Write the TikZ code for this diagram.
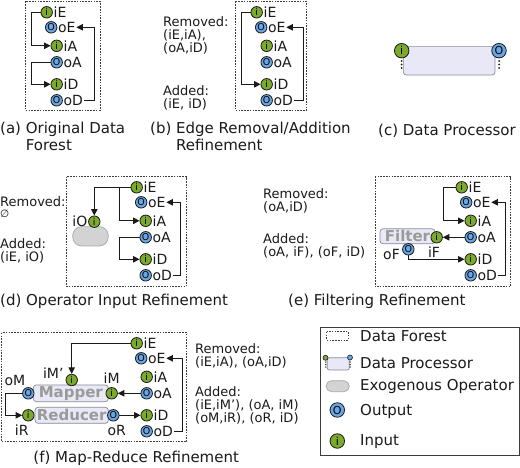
\documentclass[tikz,border=0pt]{standalone}
\usepackage{fontspec}
\setmainfont{DejaVu Sans}
\usetikzlibrary{arrows.meta}
\definecolor{ingreen}{HTML}{7BAA2C}
\definecolor{outblue}{HTML}{6AA6E2}
\definecolor{proc}{HTML}{E8E8F6}
\definecolor{procb}{HTML}{8A8A96}
\definecolor{exo}{HTML}{D3D3D3}
\definecolor{exob}{HTML}{A8A8A8}
\definecolor{ink}{HTML}{1A1A1A}
\definecolor{ptxt}{HTML}{9A9A9A}
\tikzset{
  port/.style={circle, draw=ink, line width=0.8pt, inner sep=0pt, minimum size=11.5pt, font=\fontsize{9.5}{9.5}\selectfont},
  inp/.style={port, fill=ingreen},
  outp/.style={port, fill=outblue},
  bigport/.style={minimum size=14.5pt, font=\fontsize{11}{11}\selectfont},
  lbl/.style={inner sep=0.6pt, font=\fontsize{14}{14}\selectfont, text=ink},
  side/.style={align=left, inner sep=0pt, font=\fontsize{13}{13}\selectfont, text=ink, anchor=north west},
  capt/.style={align=left, inner sep=0pt, font=\fontsize{15}{17}\selectfont, text=ink, anchor=north west},
  legtext/.style={inner sep=0pt, font=\fontsize{15}{15}\selectfont, text=ink, anchor=base west},
  forest/.style={draw=ink!85, dash pattern=on 1.6pt off 1.2pt, line width=0.8pt},
  conn/.style={draw=ink, line width=0.9pt},
  arr/.style={conn, -{Triangle[length=6.5pt,width=6.5pt]}},
  procbox/.style={draw=procb, fill=proc, rounded corners=3pt, line width=0.7pt, inner sep=0pt,
     font=\bfseries\fontsize{15}{15}\selectfont, text=ptxt},
  exobox/.style={draw=exob, fill=exo, line width=0.7pt, inner sep=0pt},
  dotmark/.style={circle, fill=ink, inner sep=0pt, minimum size=2pt}
}
\newcommand\portstack[4]{%
  \node[inp] (#1-iE) at (#2,#4) {i};
  \node[lbl,anchor=west] (#1-iEl) at (#1-iE.east) {iE};
  \node[outp] (#1-oE) at (#2+4.5,#4+15) {O};
  \node[lbl,anchor=west] (#1-oEl) at (#1-oE.east) {oE};
  \node[inp] (#1-iA) at (#3,#4+33.5) {i};
  \node[lbl,anchor=west] (#1-iAl) at (#1-iA.east) {iA};
  \node[outp] (#1-oA) at (#3,#4+50) {O};
  \node[lbl,anchor=west] (#1-oAl) at (#1-oA.east) {oA};
  \node[inp] (#1-iD) at (#3,#4+72) {i};
  \node[lbl,anchor=west] (#1-iDl) at (#1-iD.east) {iD};
  \node[outp] (#1-oD) at (#3,#4+88) {O};
  \node[lbl,anchor=west] (#1-oDl) at (#1-oD.east) {oD};
}
\begin{document}
\begin{tikzpicture}[x=1pt,y=-1pt]
\useasboundingbox[fill=white] (0,0) rectangle (520,468);

% ---------- (a) ----------
\draw[forest] (25,1.5) rectangle (100,110);
\portstack{a}{46.7}{56.7}{12.3}
\coordinate (a-l) at (31,0);
\coordinate (a-r) at (94,0);
\draw[arr] (a-iE.west) -| (a-l |- a-iA.west) -- (a-iA.west);
\draw[arr] (a-oA.west) -| (a-l |- a-iD.west) -- (a-iD.west);
\draw[arr] (a-oDl.east) -| (a-r |- a-oEl.east) -- (a-oEl.east);
\node[capt] (a-cap) at (0,122) {(a) Original Data\\\hphantom{(a) }Forest};

% ---------- (b) ----------
\draw[forest] (235,1.5) rectangle (306.7,110);
\portstack{b}{256.7}{266.7}{12.3}
\coordinate (b-l) at (241.7,0);
\coordinate (b-r) at (303.3,0);
\draw[arr] (b-iE.west) -| (b-l |- b-iD.west) -- (b-iD.west);
\draw[arr] (b-oDl.east) -| (b-r |- b-oEl.east) -- (b-oEl.east);
\node[side] (b-rem) at (163,16) {Removed:\\(iE,iA),\\(oA,iD)};
\node[side] (b-add) at (163,85) {Added:\\(iE, iD)};
\node[capt] (b-cap) at (150,122) {(b) Edge Removal/Addition\\\hphantom{(b) }Refinement};

% ---------- (c) ----------
\node[procbox, minimum width=91.7pt, minimum height=28.3pt] (c-proc) at (449.2,60.8) {};
\node[inp, bigport] (c-i) at (401.7,50.7) {i};
\node[outp, bigport] (c-o) at (499,50.7) {O};
\foreach \yy in {61,64.5,68} {
  \node[dotmark] at (401.7,\yy) {};
  \node[dotmark] at (499,\yy) {};
}
\node[capt] (c-cap) at (378,124) {(c) Data Processor};

% ---------- (d) ----------
\draw[forest] (66.7,176.7) rectangle (186,286.7);
\portstack{d}{136.7}{145.7}{187.3}
\node[exobox, rounded corners=9pt, minimum width=35.6pt, minimum height=19.3pt] (d-exo) at (90.5,236.3) {};
\node[inp] (d-iO) at (94.3,221.7) {i};
\node[lbl,anchor=east] (d-iOl) at (d-iO.west) {iO};
\coordinate (d-l) at (119.3,0);
\coordinate (d-r) at (180,0);
\coordinate (d-j) at (d-l |- d-iE.west);
\draw[arr] (d-iE.west) -| (d-iO.north);
\draw[arr] (d-j) |- (d-iA.west);
\draw[arr] (d-oA.west) -| (d-l |- d-iD.west) -- (d-iD.west);
\draw[arr] (d-oDl.east) -| (d-r |- d-oEl.east) -- (d-oEl.east);
\node[side] (d-rem) at (0,196.7) {Removed:\\[-2.5pt]{\fontsize{10.5}{10.5}\selectfont ∅}};
\node[side] (d-add) at (0,238.5) {Added:\\(iE, iO)};
\node[capt] (d-cap) at (0,294) {(d) Operator Input Refinement};

% ---------- (e) ----------
\draw[forest] (375,176.7) rectangle (510.7,286.7);
\portstack{e}{461.7}{470.7}{187.3}
\node[procbox, minimum width=55pt, minimum height=15pt, text depth=0pt] (e-filter) at (407.5,236.3) {Filter\hspace{4pt}};
\node[inp] (e-iF) at (436.7,237.3) {i};
\node[lbl] (e-iFl) at (434,252) {iF};
\node[outp] (e-oF) at (408.3,249.3) {O};
\node[lbl] (e-oFl) at (391.5,254) {oF};
\coordinate (e-l) at (443.3,0);
\coordinate (e-r) at (505,0);
\draw[arr] (e-iE.west) -| (e-l |- e-iA.west) -- (e-iA.west);
\draw[arr] (e-oA.west) -- (e-iF.east);
\draw[arr] (e-oF.south) |- (e-iD.west);
\draw[arr] (e-oDl.east) -| (e-r |- e-oEl.east) -- (e-oEl.east);
\node[side] (e-rem) at (263,188.3) {Removed:\\(oA,iD)};
\node[side] (e-add) at (263,233.3) {Added:\\(oA, iF), (oF, iD)};
\node[capt] (e-cap) at (288,294) {(e) Filtering Refinement};

% ---------- (f) ----------
\draw[forest] (1.7,332.7) rectangle (186.7,441.7);
\portstack{f}{136.7}{146.7}{343.3}
\node[procbox, minimum width=75pt, minimum height=16.7pt] (f-map) at (70.8,393.3) {Mapper};
\node[procbox, minimum width=73.3pt, minimum height=16pt] (f-red) at (71.7,415.3) {Reducer};
\node[inp] (f-iMp) at (71.7,380) {i};
\node[lbl] (f-iMpl) at (53.3,373.5) {iM'};
\node[outp] (f-oM) at (28.3,393.3) {O};
\node[lbl] (f-oMl) at (15,380) {oM};
\node[inp] (f-iM) at (111.7,393.3) {i};
\node[lbl] (f-iMl) at (111.7,378.3) {iM};
\node[inp] (f-iR) at (28.3,415.3) {i};
\node[lbl] (f-iRl) at (21.7,430) {iR};
\node[outp] (f-oR) at (113.3,415.3) {O};
\node[lbl] (f-oRl) at (116.7,430) {oR};
\coordinate (f-l) at (5,0);
\coordinate (f-r) at (182.7,0);
\draw[arr] (f-iE.west) -| (f-iMp.north);
\draw[arr] (f-oA.west) -- (f-iM.east);
\draw[arr] (f-oM.west) -| (f-l |- f-iR.west) -- (f-iR.west);
\draw[arr] (f-oR.east) -- (f-iD.west);
\draw[arr] (f-oDl.east) -| (f-r |- f-oEl.east) -- (f-oEl.east);
\node[side] (f-rem) at (195,343.3) {Removed:\\(iE,iA), (oA,iD)};
\node[side] (f-add) at (195,386.7) {Added:\\(iE,iM'), (oA, iM)\\(oM,iR), (oR, iD)};
\node[capt] (f-cap) at (33.3,450.7) {(f) Map-Reduce Refinement};

% ---------- legend ----------
\node[draw=ink!85, line width=0.8pt, inner sep=0pt, minimum width=199.3pt, minimum height=127.7pt] (leg) at (419.65,391.15) {};
\draw[forest] (326.7,331.7) rectangle (348.3,340);
\node[legtext] (leg-t1) at (360,341.5) {Data Forest};
\node[procbox, rounded corners=2pt, minimum width=22pt, minimum height=12.3pt] (leg-proc) at (338.3,363.9) {};
\node[circle, draw=ink, fill=ingreen, line width=0.6pt, inner sep=0pt, minimum size=5pt] (leg-pi) at (325.5,357.8) {};
\node[circle, draw=ink, fill=outblue, line width=0.6pt, inner sep=0pt, minimum size=5pt] (leg-po) at (350,357.5) {};
\foreach \yy in {362,364.5,367} {
  \node[dotmark, minimum size=1.5pt] at (325.8,\yy) {};
  \node[dotmark, minimum size=1.5pt] at (350.2,\yy) {};
}
\node[legtext] (leg-t2) at (360,368.2) {Data Processor};
\node[exobox, rounded corners=5.5pt, minimum width=23.3pt, minimum height=11pt] (leg-exo) at (337.7,386.2) {};
\node[legtext] (leg-t3) at (360,390.5) {Exogenous Operator};
\node[outp, bigport] (leg-o) at (337.3,410) {O};
\node[legtext] (leg-t4) at (360,415.5) {Output};
\node[inp, bigport] (leg-i) at (337.3,441) {i};
\node[legtext] (leg-t5) at (360,445.5) {Input};
\end{tikzpicture}
\end{document}
